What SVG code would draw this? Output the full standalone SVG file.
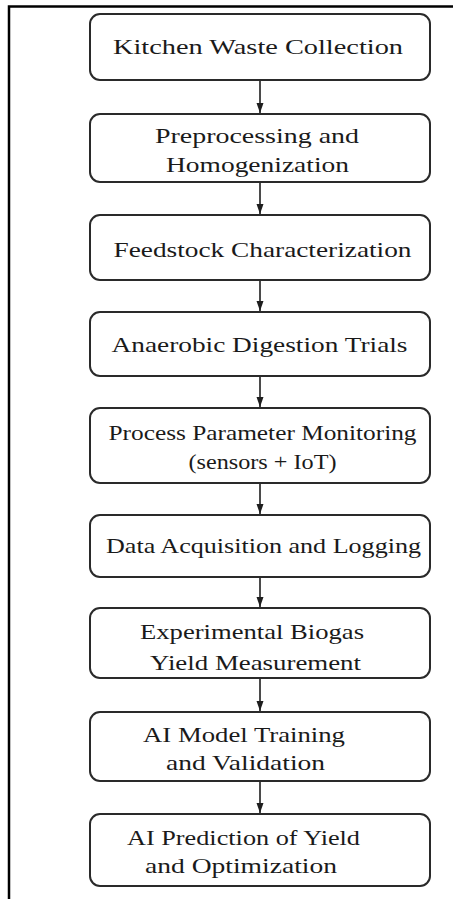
<svg xmlns="http://www.w3.org/2000/svg" width="453" height="899" viewBox="0 0 453 899">
<style>
.box{fill:#fff;stroke:#2a2a2a;stroke-width:2}
.t{font-family:"Liberation Serif","DejaVu Serif",serif;font-size:22px;fill:#1a1a1a;text-anchor:middle}
.c{stroke:#1e1e1e;stroke-width:1.6;fill:none;marker-end:url(#ah)}
.frame{stroke:#000;stroke-width:2.5;fill:none}
</style>
<defs>
<marker id="ah" markerUnits="userSpaceOnUse" markerWidth="10" markerHeight="8" refX="10" refY="4" orient="auto" viewBox="0 0 10 8">
<path d="M0,0.5 L10,4 L0,7.5 Z" fill="#1e1e1e"/>
</marker>
</defs>
<rect width="453" height="899" fill="#fff"/>
<path class="frame" d="M9,899 V6.5 H453"/>
<g id="connectors">
<line class="c" x1="260" y1="81" x2="260" y2="113"/>
<line class="c" x1="260" y1="183" x2="260" y2="214"/>
<line class="c" x1="260" y1="281" x2="260" y2="311"/>
<line class="c" x1="260" y1="377" x2="260" y2="407"/>
<line class="c" x1="260" y1="484" x2="260" y2="514"/>
<line class="c" x1="260" y1="578" x2="260" y2="607"/>
<line class="c" x1="260" y1="679" x2="260" y2="711"/>
<line class="c" x1="260" y1="782" x2="260" y2="813"/>
</g>
<g id="n1"><rect class="box" x="90" y="14" width="340" height="66" rx="10"/>
<text class="t" x="258" y="54" textLength="290" lengthAdjust="spacingAndGlyphs">Kitchen Waste Collection</text></g>
<g id="n2"><rect class="box" x="90" y="114" width="340" height="68" rx="10"/>
<text class="t" x="257" y="143" textLength="204" lengthAdjust="spacingAndGlyphs">Preprocessing and</text>
<text class="t" x="257.5" y="172" textLength="183" lengthAdjust="spacingAndGlyphs">Homogenization</text></g>
<g id="n3"><rect class="box" x="90" y="215" width="340" height="65" rx="10"/>
<text class="t" x="262.5" y="257" textLength="298" lengthAdjust="spacingAndGlyphs">Feedstock Characterization</text></g>
<g id="n4"><rect class="box" x="90" y="312" width="340" height="64" rx="10"/>
<text class="t" x="259.5" y="352" textLength="296" lengthAdjust="spacingAndGlyphs">Anaerobic Digestion Trials</text></g>
<g id="n5"><rect class="box" x="90" y="408" width="340" height="75" rx="10"/>
<text class="t" x="262.5" y="440" textLength="308" lengthAdjust="spacingAndGlyphs">Process Parameter Monitoring</text>
<text class="t" x="262.5" y="469" textLength="148" lengthAdjust="spacingAndGlyphs">(sensors + IoT)</text></g>
<g id="n6"><rect class="box" x="90" y="515" width="340" height="62" rx="10"/>
<text class="t" x="263.5" y="553" textLength="315" lengthAdjust="spacingAndGlyphs">Data Acquisition and Logging</text></g>
<g id="n7"><rect class="box" x="90" y="608" width="340" height="70" rx="10"/>
<text class="t" x="252" y="639" textLength="224" lengthAdjust="spacingAndGlyphs">Experimental Biogas</text>
<text class="t" x="255.5" y="670" textLength="211" lengthAdjust="spacingAndGlyphs">Yield Measurement</text></g>
<g id="n8"><rect class="box" x="90" y="712" width="340" height="69" rx="10"/>
<text class="t" x="244" y="742" textLength="202" lengthAdjust="spacingAndGlyphs">AI Model Training</text>
<text class="t" x="245.5" y="770" textLength="159" lengthAdjust="spacingAndGlyphs">and Validation</text></g>
<g id="n9"><rect class="box" x="90" y="814" width="340" height="72" rx="10"/>
<text class="t" x="243.5" y="845" textLength="233" lengthAdjust="spacingAndGlyphs">AI Prediction of Yield</text>
<text class="t" x="241" y="873" textLength="192" lengthAdjust="spacingAndGlyphs">and Optimization</text></g>
</svg>
